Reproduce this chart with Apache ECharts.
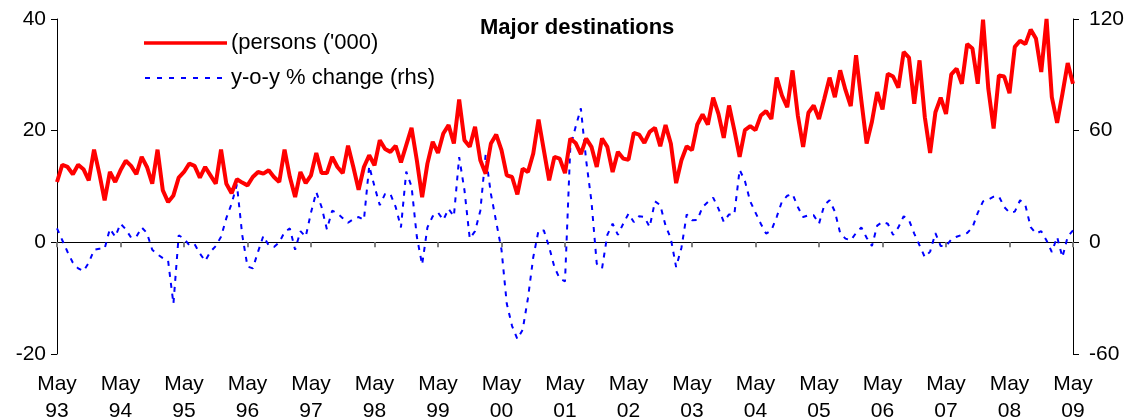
<!DOCTYPE html>
<html>
<head>
<meta charset="utf-8">
<script src="https://cdn.jsdelivr.net/npm/echarts@6/dist/echarts.min.js"></script>
<style>
html,body{margin:0;padding:0;background:#fff;}
#c{width:1130px;height:418px;}
</style>
</head>
<body>
<div id="c"></div>
<script>
// Monthly, May 1993 .. May 2009
const startYear = 1993, startMonth = 4; // May (0-based)
const monthNames = ['Jan','Feb','Mar','Apr','May','Jun','Jul','Aug','Sep','Oct','Nov','Dec'];

const persons = [
  10.8,13.9,13.5,12.2,13.9,13.1,11.1,16.6,12.3,7.5,12.6,10.8,
  12.9,14.6,13.7,12.2,15.3,13.5,10.5,16.6,9.3,7.2,8.4,11.6,
  12.6,14.1,13.7,11.6,13.5,12.0,10.5,16.6,10.5,8.8,11.3,10.7,
  10.2,11.7,12.6,12.3,12.9,11.7,10.8,16.6,11.7,8.1,12.6,10.6,
  12.0,16.0,12.4,12.4,15.3,13.5,12.4,17.3,13.5,9.4,13.5,15.6,
  13.8,18.3,16.7,16.2,17.3,14.3,17.4,20.5,14.7,8.1,14.1,18.0,
  16.0,19.5,21.0,17.7,25.6,18.3,17.1,20.7,14.7,12.3,17.7,19.3,
  16.5,12.0,11.7,8.6,13.2,12.6,15.9,22.0,16.5,11.1,15.3,15.0,
  12.4,18.6,17.8,15.8,18.6,17.1,13.5,18.6,17.1,12.6,16.2,15.0,
  14.8,19.6,19.3,17.8,19.8,20.5,17.2,21.0,17.7,10.6,14.7,17.2,
  16.5,21.1,22.9,21.1,25.9,23.0,18.7,24.5,20.1,15.3,20.1,20.8,
  20.1,22.7,23.5,22.1,29.5,26.3,24.2,30.8,22.7,17.1,23.2,24.5,
  22.1,25.7,29.5,26.0,30.8,27.3,24.4,33.5,25.4,17.7,21.6,26.9,
  23.8,30.2,29.7,27.7,34.1,33.1,24.8,32.6,22.4,16.0,23.3,25.9,
  23.0,30.1,31.1,28.4,35.5,34.7,28.4,39.9,27.5,20.4,29.9,29.7,
  26.7,35.0,36.1,35.5,38.1,36.5,30.5,40.0,26.0,21.4,26.6,32.1,
  28.4
];

const yoyChange = [
  7.5,1.1,-5.2,-11,-14,-15.5,-11,-4,-3.4,-3.4,7.3,3,
  10,7,2.5,3,8,5,-4,-6.5,-8.5,-10,-33,3.8,
  2,-1.5,-1,-6,-10,-5,-2,3,13,20.8,31,4,
  -13,-14,-5,3.5,-1.6,-2.5,0,5.5,7.5,-4,6,3,
  16,27,19,7,17,15.5,13,10.5,12.5,13.6,12,41,
  30,20,26,26,19,8,38,30,3,-12,8,14,
  16,12,18,14,45.8,28,2,6,17,47,26,11,
  -4,-33,-45,-52,-47,-30,-8,6.4,6.4,-2.5,-13.3,-19.5,
  -21,51,62,72,44,22,-11.5,-14,4,10,4,10,
  15.4,10.9,14,13.6,8.2,22,20,9,2,-13.3,-3,15,
  11.8,12,19,21.7,24,18.1,11,15,15,39,33,22,
  16,10,4.7,6.4,13.6,22,25,26,19,13.6,14.5,14.5,
  10,20,22.6,16.5,5,2,1.1,5,8,2.5,-2,9,
  11,10,4,8,14,12,4.7,-1.6,-8,-5,5,-2,
  -2,1.5,3,4,5,8,15.8,22,23,24.5,24.7,19,
  16,16.5,22.6,20,8.2,4.7,6,1,-5.2,2.9,-8,3,
  6.4
];

const leftTicks = { min: -20, max: 40, interval: 20 };
const rightTicks = { min: -60, max: 120, interval: 60 };
const seriesNames = ["(persons ('000)", 'y-o-y % change (rhs)'];
const titleText = 'Major destinations';

const categories = [];
for (let i = 0; i < persons.length; i++) {
  const m = (startMonth + i) % 12;
  const y = startYear + Math.floor((startMonth + i) / 12);
  categories.push(monthNames[m] + ' ' + String(y % 100).padStart(2, '0'));
}

const FONT = '"Liberation Sans", Arial, sans-serif';
const RED = '#ff0000', BLUE = '#0000ff';
const chart = echarts.init(document.getElementById('c'), null, { renderer: 'canvas' });
chart.setOption({
  animation: false,
  backgroundColor: '#fff',
  title: {
    text: titleText,
    left: 475, top: 12,
    textStyle: { fontFamily: FONT, fontSize: 22, fontWeight: 'bold', color: '#000' }
  },
  graphic: [
    { type: 'line', shape: { x1: 144, y1: 43, x2: 227, y2: 43 }, style: { stroke: RED, lineWidth: 3.5 } },
    { type: 'text', x: 231, y: 43, style: { text: seriesNames[0], fill: '#000', font: '22px ' + FONT, verticalAlign: 'middle' } },
    { type: 'line', shape: { x1: 145, y1: 78, x2: 223, y2: 78 }, style: { stroke: BLUE, lineWidth: 2, lineDash: [5, 7] } },
    { type: 'text', x: 231, y: 78, style: { text: seriesNames[1], fill: '#000', font: '22px ' + FONT, verticalAlign: 'middle' } }
  ],
  grid: { left: 57, right: 57, top: 19, bottom: 64, containLabel: false, outerBoundsMode: 'none' },
  xAxis: [
    {
      type: 'category', data: categories, boundaryGap: false, position: 'bottom',
      axisLine: { show: false, onZero: false }, axisTick: { show: false },
      axisLabel: {
        interval: 11, margin: 17, fontFamily: FONT, fontSize: 21, color: '#000', lineHeight: 27,
        formatter: v => v.replace(' ', '\n')
      },
      splitLine: { show: false }
    },
    {
      type: 'category', data: categories, boundaryGap: false, position: 'bottom',
      axisLine: { show: true, onZero: true, lineStyle: { color: '#000', width: 1 } },
      axisTick: { show: true, interval: 11, length: 5, lineStyle: { color: '#808080', width: 2 } },
      axisLabel: { show: false },
      splitLine: { show: false }
    }
  ],
  yAxis: [
    {
      type: 'value', position: 'left', min: leftTicks.min, max: leftTicks.max, interval: leftTicks.interval,
      axisLine: { show: true, lineStyle: { color: '#000' } },
      axisTick: { show: true, length: 6, lineStyle: { color: '#000' } },
      axisLabel: { fontFamily: FONT, fontSize: 21, color: '#000', margin: 11 },
      splitLine: { show: false }
    },
    {
      type: 'value', position: 'right', min: rightTicks.min, max: rightTicks.max, interval: rightTicks.interval,
      axisLine: { show: true, lineStyle: { color: '#000' } },
      axisTick: { show: true, length: 6, lineStyle: { color: '#000' } },
      axisLabel: { fontFamily: FONT, fontSize: 21, color: '#000', margin: 16 },
      splitLine: { show: false }
    }
  ],
  series: [
    {
      name: seriesNames[1], type: 'line', data: yoyChange, xAxisIndex: 0, yAxisIndex: 1,
      symbol: 'none', lineStyle: { color: BLUE, width: 2, type: [5, 6] }, itemStyle: { color: BLUE },
      z: 2
    },
    {
      name: seriesNames[0], type: 'line', data: persons, xAxisIndex: 0, yAxisIndex: 0,
      symbol: 'none', lineStyle: { color: RED, width: 4 }, itemStyle: { color: RED },
      z: 3
    }
  ]
});
</script>
</body>
</html>
